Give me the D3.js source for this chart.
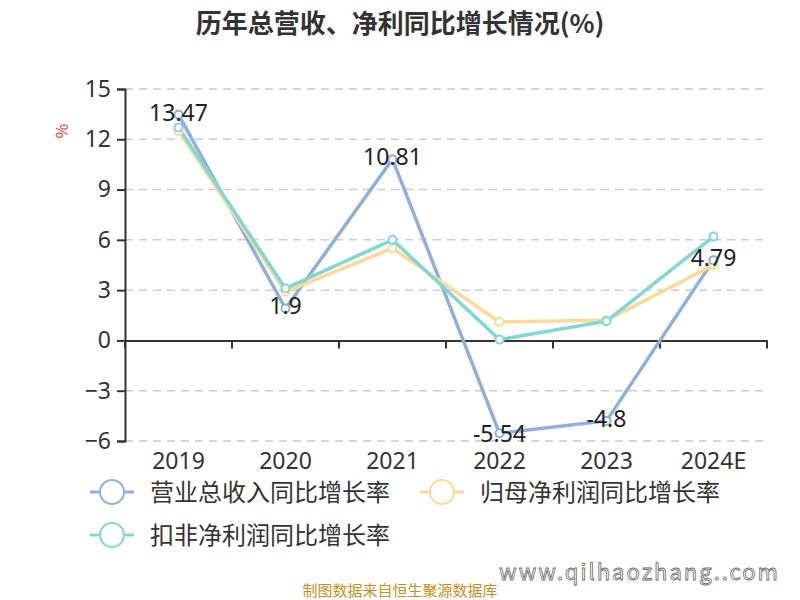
<!DOCTYPE html>
<html><head><meta charset="utf-8">
<script src="https://cdn.jsdelivr.net/npm/d3@7"></script>
<style>body{margin:0;background:#fff;font-family:"Noto Sans CJK SC","Noto Sans",sans-serif}</style>
</head><body>
<script>
var years = ["2019","2020","2021","2022","2023","2024E"];
var revenue = [13.47, 1.9, 10.81, -5.54, -4.8, 4.79];
var netProfit = [12.5, 2.9, 5.5, 1.1, 1.2, 4.5];
var deductedProfit = [12.7, 3.1, 6.0, 0.05, 1.15, 6.2];
var yTicks = [-6, -3, 0, 3, 6, 9, 12, 15];
var seriesNames = ["营业总收入同比增长率", "归母净利润同比增长率", "扣非净利润同比增长率"];
var seriesColors = ["#8fb0dc", "#fdd995", "#80d8d6"];

var svg = d3.select('body').append('svg').attr('width', 800).attr('height', 600);

svg.append('text').attr('x', 400).attr('y', 33).attr('text-anchor', 'middle')
    .style('font-size', '26px').style('font-weight', 'bold').attr('fill', '#333')
    .text('历年总营收、净利同比增长情况(%)');

var x = d3.scaleBand().domain(years).range([125, 767]);
var y = d3.scaleLinear().domain([-6, 15]).range([441, 89]);

// grid
svg.selectAll('line.grid').data(yTicks.filter(function(d){return d !== 0;})).enter()
    .append('line').attr('x1', 125).attr('x2', 767)
    .attr('y1', function(d){return y(d);}).attr('y2', function(d){return y(d);})
    .attr('stroke', '#ccc').attr('stroke-dasharray', '8,6').attr('stroke-width', 1.5);

var yAxis = svg.append('g').attr('transform', 'translate(125,0)')
    .call(d3.axisLeft(y).tickValues(yTicks).tickSize(8).tickPadding(6));
yAxis.select('.domain').attr('stroke', '#333').attr('stroke-width', 2);
yAxis.selectAll('line').attr('stroke', '#333').attr('stroke-width', 2);
yAxis.selectAll('text').style('font-size', '23px').attr('fill', '#333')
    .style('font-family', '"Noto Sans","Open Sans",sans-serif');

var xAxis = svg.append('g').attr('transform', 'translate(0,' + y(0) + ')')
    .call(d3.axisBottom(x).tickSize(0).tickPadding(0));
xAxis.select('.domain').attr('stroke', '#333').attr('stroke-width', 2);
xAxis.selectAll('text').attr('y', 112).style('font-size', '23px').attr('fill', '#333')
    .style('font-family', '"Noto Sans","Open Sans",sans-serif');
xAxis.selectAll('line.bt').data(years.map(function(d){return x(d);}).concat([767])).enter()
    .append('line').attr('x1', function(d){return d;}).attr('x2', function(d){return d;})
    .attr('y1', 0).attr('y2', 8).attr('stroke', '#333').attr('stroke-width', 2);

svg.append('text').attr('transform', 'translate(68,131) rotate(-90)').attr('text-anchor', 'middle')
    .style('font-size', '16px').attr('fill', '#e33').text('%');

var line = d3.line().x(function(d, i){return x(years[i]) + x.bandwidth()/2;}).y(function(d){return y(d);});
[revenue, netProfit, deductedProfit].forEach(function(s, k){
    svg.append('path').datum(s).attr('d', line).attr('fill', 'none')
        .attr('stroke', seriesColors[k]).attr('stroke-width', 3.5);
});
[netProfit, deductedProfit, revenue].forEach(function(s){
    var k = s === revenue ? 0 : (s === netProfit ? 1 : 2);
    svg.selectAll(null).data(s).enter().append('circle')
        .attr('cx', function(d, i){return x(years[i]) + x.bandwidth()/2;})
        .attr('cy', function(d){return y(d);}).attr('r', 4)
        .attr('fill', '#fff').attr('stroke', seriesColors[k]).attr('stroke-width', 2);
});
var labelDy = [-2, -3, -2, 1, -2, -2];
svg.selectAll('text.lbl').data(revenue).enter().append('text')
    .attr('x', function(d, i){return x(years[i]) + x.bandwidth()/2;})
    .attr('y', function(d, i){return y(d) + labelDy[i] + 8;})
    .attr('text-anchor', 'middle').style('font-size', '23px').attr('fill', '#222')
    .style('font-family', '"Noto Sans","Open Sans",sans-serif')
    .text(function(d){return d;});

// legend
var legPos = [[90, 492], [420, 492], [90, 535]];
seriesNames.forEach(function(n, k){
    var g = svg.append('g').attr('transform', 'translate(' + legPos[k][0] + ',' + legPos[k][1] + ')');
    g.append('line').attr('x1', 0).attr('x2', 44).attr('stroke', seriesColors[k]).attr('stroke-width', 3);
    g.append('circle').attr('cx', 22).attr('r', 12).attr('fill', '#fff').attr('stroke', seriesColors[k]).attr('stroke-width', 2);
    g.append('text').attr('x', 60).attr('y', 9).style('font-size', '24px').attr('fill', '#333').text(n);
});

svg.append('text').attr('x', 400).attr('y', 596).attr('text-anchor', 'middle')
    .style('font-size', '15px').attr('fill', '#c8901c').text('制图数据来自恒生聚源数据库');
svg.append('text').attr('x', 780).attr('y', 580).attr('text-anchor', 'end')
    .style('font-size', '22px').style('letter-spacing', '2px').attr('fill', '#fff')
    .attr('stroke', '#666').attr('stroke-width', 0.8).text('www.qilhaozhang..com');
</script>
</body></html>
